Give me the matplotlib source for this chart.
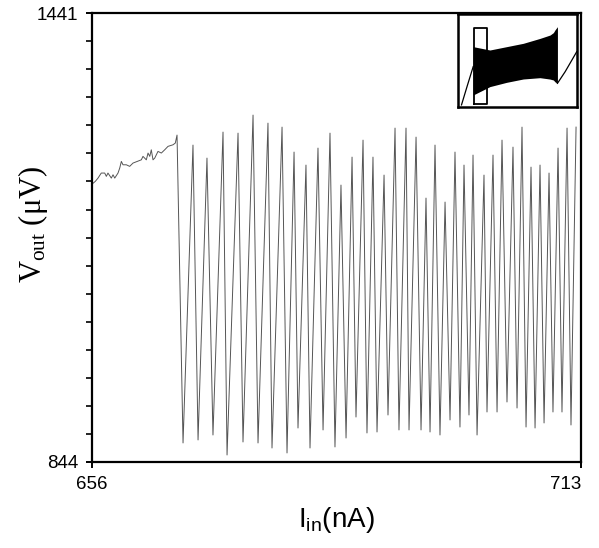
import matplotlib
matplotlib.use("Agg")
import matplotlib.pyplot as plt
import numpy as np

plt.rcParams["mathtext.fontset"] = "custom"
plt.rcParams["mathtext.rm"] = "Liberation Serif"
plt.rcParams["mathtext.sf"] = "Liberation Sans"
plt.rcParams["mathtext.it"] = "Liberation Serif:italic"

# ---- data ----
x_limits = [656, 713]
y_limits = [844, 1441]
x_ticklabels = ["656", "713"]
y_ticklabels = ["844", "1441"]

# slowly rising, noisy part before oscillation starts
ramp_x = [656.0, 656.38, 656.70, 657.08, 657.48, 657.67, 657.86, 658.25, 658.45,
          658.65, 659.03, 659.23, 659.42, 659.61, 660.00, 660.39, 660.78, 661.75,
          661.94, 662.33, 662.53, 662.73, 662.91, 663.11, 663.31, 663.69, 664.08,
          664.47, 664.86, 665.44, 665.71]
ramp_y = [1213.6, 1217.2, 1221.6, 1228.3, 1228.3, 1223.9, 1228.3, 1221.6, 1226.0,
          1221.6, 1228.3, 1234.9, 1243.8, 1239.3, 1239.3, 1237.2, 1241.6, 1245.9,
          1250.5, 1245.9, 1254.9, 1250.5, 1259.2, 1245.9, 1248.2, 1257.1, 1254.9,
          1259.2, 1263.8, 1265.9, 1268.2]

# oscillation: alternating peaks and troughs
osc_x = [665.91, 666.61, 667.77, 668.36, 669.40, 670.10, 671.27, 671.74, 673.02, 673.60,
         674.77, 675.35, 676.51, 676.98, 678.15, 678.73, 679.55, 680.01, 680.94, 681.41,
         682.34, 682.93, 683.74, 684.32, 685.02, 685.61, 686.31, 686.77, 687.59, 688.05,
         688.75, 689.22, 690.04, 690.50, 691.32, 691.78, 692.60, 692.95, 693.77, 694.35,
         694.93, 695.40, 695.98, 696.56, 697.15, 697.73, 698.31, 698.89, 699.36, 699.94,
         700.41, 700.88, 701.69, 702.04, 702.74, 703.21, 703.79, 704.37, 705.07, 705.54,
         706.12, 706.59, 707.17, 707.64, 708.22, 708.69, 709.27, 709.73, 710.32, 710.78,
         711.37, 711.83, 712.42]
osc_y = [1278.8, 869.3, 1265.5, 873.3, 1248.2, 879.9, 1282.8, 853.3, 1281.4, 870.6,
         1305.4, 869.3, 1294.7, 862.6, 1289.4, 856.0, 1256.2, 889.2, 1238.9, 862.6,
         1261.5, 886.6, 1281.4, 864.0, 1212.3, 875.9, 1249.5, 903.8, 1272.1, 882.6,
         1249.5, 883.9, 1225.6, 906.5, 1288.1, 886.6, 1288.1, 886.6, 1276.1, 886.6,
         1195.0, 883.9, 1265.5, 879.9, 1189.7, 899.9, 1256.2, 890.5, 1238.9, 906.5,
         1252.2, 879.9, 1225.6, 910.5, 1252.2, 910.5, 1272.1, 923.8, 1262.8, 915.8,
         1289.4, 890.5, 1236.2, 889.2, 1238.9, 895.9, 1228.3, 910.5, 1261.5, 910.5,
         1288.1, 893.2, 1289.4]

# inset (overview) – fractions of the inset box
inset_band_x = [0.129, 0.269, 0.409, 0.549, 0.689, 0.773, 0.801, 0.815, 0.835]
inset_band_top = [0.649, 0.613, 0.649, 0.685, 0.738, 0.774, 0.800, 0.830, 0.864]
inset_band_bot = [0.129, 0.219, 0.265, 0.301, 0.315, 0.300, 0.290, 0.270, 0.254]
inset_pre_x = [0.031, 0.080, 0.129]
inset_pre_y = [0.022, 0.230, 0.434]
inset_post_x = [0.835, 0.900, 0.997]
inset_post_y = [0.254, 0.380, 0.595]
inset_rect = [0.134, 0.029, 0.241, 0.846]  # x0, y0, x1, y1

# ---- figure ----
fig = plt.figure(figsize=(5.99, 5.48), dpi=100)
ax = fig.add_axes([0.1536, 0.157, 0.8164, 0.819])

xs = ramp_x + osc_x
ys = ramp_y + osc_y
ax.plot(xs, ys, color="#555555", lw=0.7)

ax.set_xlim(*x_limits)
ax.set_ylim(*y_limits)

ax.set_xticks(x_limits)
ax.set_xticklabels(x_ticklabels)
ax.set_yticks(y_limits)
ax.set_yticklabels(y_ticklabels)
ax.set_yticks(np.linspace(y_limits[0], y_limits[1], 17), minor=True)

for s in ax.spines.values():
    s.set_linewidth(1.6)
    s.set_color("black")

ax.tick_params(axis="both", which="major", direction="inout", length=8, width=1.4,
               labelsize=13.5, pad=6)
ax.tick_params(axis="y", which="minor", direction="out", length=4, width=1.2)
for lab in ax.get_xticklabels() + ax.get_yticklabels():
    lab.set_family("Liberation Sans")
ax.get_xticklabels()[1].set_ha("right")

ax.set_ylabel(r"$\mathrm{V_{out}}$ (μV)", family="Liberation Serif", fontsize=22)
ax.yaxis.set_label_coords(-0.085, 0.53)
ax.set_xlabel(r"$\mathsf{I_{in}}$(nA)", family="Liberation Sans", fontsize=20, labelpad=9)

# inset
ins = ax.inset_axes([0.748, 0.791, 0.244, 0.207])
ins.set_xlim(0, 1)
ins.set_ylim(0, 1)
ins.set_xticks([])
ins.set_yticks([])
for s in ins.spines.values():
    s.set_linewidth(1.8)
ins.fill_between(inset_band_x, inset_band_bot, inset_band_top, color="black", lw=0)
ins.plot(inset_pre_x, inset_pre_y, color="black", lw=0.9)
ins.plot(inset_post_x, inset_post_y, color="black", lw=0.9)
x0, y0, x1, y1 = inset_rect
ins.plot([x0, x1, x1, x0, x0], [y0, y0, y1, y1, y0], color="black", lw=1.3)

fig.savefig("out.png", dpi=100)
